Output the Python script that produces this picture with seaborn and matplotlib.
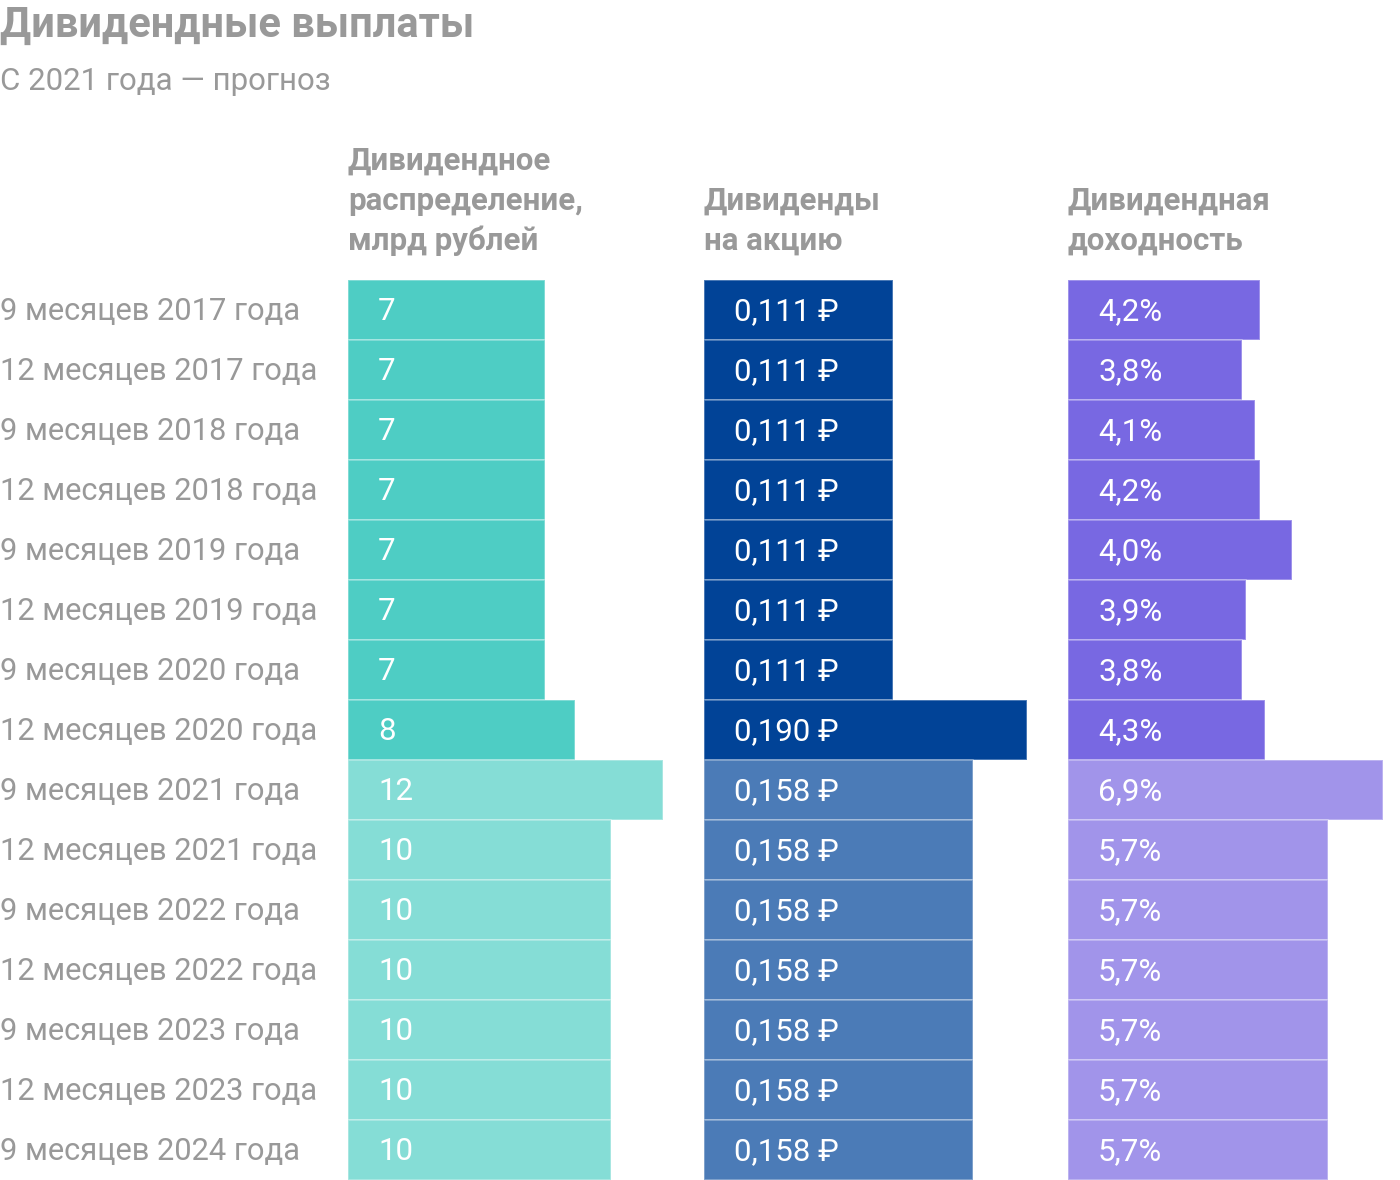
import matplotlib
matplotlib.use("Agg")
import matplotlib.pyplot as plt
import matplotlib.transforms as mtransforms
import seaborn as sns
import pandas as pd

periods = [
    "9 месяцев 2017 года", "12 месяцев 2017 года", "9 месяцев 2018 года",
    "12 месяцев 2018 года", "9 месяцев 2019 года", "12 месяцев 2019 года",
    "9 месяцев 2020 года", "12 месяцев 2020 года", "9 месяцев 2021 года",
    "12 месяцев 2021 года", "9 месяцев 2022 года", "12 месяцев 2022 года",
    "9 месяцев 2023 года", "12 месяцев 2023 года", "9 месяцев 2024 года",
]
status = ["факт"] * 8 + ["прогноз"] * 7

distribution = [7.5, 7.5, 7.5, 7.5, 7.5, 7.5, 7.5, 8.65, 12, 10, 10, 10, 10, 10, 10]
distribution_labels = ["7", "7", "7", "7", "7", "7", "7", "8", "12", "10", "10", "10", "10", "10", "10"]

per_share = [0.111, 0.111, 0.111, 0.111, 0.111, 0.111, 0.111, 0.190,
             0.158, 0.158, 0.158, 0.158, 0.158, 0.158, 0.158]
per_share_labels = ["0,111 ₽"] * 7 + ["0,190 ₽"] + ["0,158 ₽"] * 7

yield_pct = [4.2, 3.8, 4.1, 4.2, 4.9, 3.9, 3.8, 4.3, 6.9, 5.7, 5.7, 5.7, 5.7, 5.7, 5.7]
yield_labels = ["4,2%", "3,8%", "4,1%", "4,2%", "4,0%", "3,9%", "3,8%", "4,3%",
                "6,9%", "5,7%", "5,7%", "5,7%", "5,7%", "5,7%", "5,7%"]

headers = [
    "Дивидендное\nраспределение,\nмлрд рублей",
    "Дивиденды\nна акцию",
    "Дивидендная\nдоходность",
]
title = "Дивидендные выплаты"
subtitle = "С 2021 года — прогноз"

df = pd.DataFrame({
    "period": periods, "status": status,
    "dist": distribution, "share": per_share, "yield": yield_pct,
})

sns.set_theme(style="white")
plt.rcParams["font.family"] = ["Roboto", "DejaVu Sans"]

W, H = 1400, 1180
fig = plt.figure(figsize=(W / 100, H / 100), dpi=100)
GRAY = "#999999"

# columns: (value column, left px, width px, xmax, palette, labels)
columns = [
    ("dist", 348, 320, 320 / 26.25, {"факт": "#4ECDC4", "прогноз": "#85DDD6"}, distribution_labels),
    ("share", 704, 340, 340 / 1700.0, {"факт": "#014397", "прогноз": "#4B7BB7"}, per_share_labels),
    ("yield", 1068, 332, 332 / 45.7, {"факт": "#7868E2", "прогноз": "#A194EA"}, yield_labels),
]

top_px, bottom_px = 280, 1180
axes = []
for col, left, width, xmax, pal, labels in columns:
    ax = fig.add_axes([left / W, 1 - bottom_px / H, width / W, (bottom_px - top_px) / H])
    sns.barplot(data=df, x=col, y="period", hue="status", palette=pal, dodge=False,
                width=1.0, orient="h", ax=ax, legend=False,
                edgecolor=(1, 1, 1, 0.35), linewidth=1.2, saturation=1)
    ax.set_xlim(0, xmax)
    ax.set_ylim(len(periods) - 0.5, -0.5)
    ax.axis("off")
    for i, lab in enumerate(labels):
        ax.text(30 / width, i + 0.03, lab,
                transform=mtransforms.blended_transform_factory(ax.transAxes, ax.transData),
                ha="left", va="center", color="white", fontsize=22.5)
    axes.append(ax)

# row labels
trans = mtransforms.blended_transform_factory(fig.transFigure, axes[0].transData)
for i, p in enumerate(periods):
    fig.text(0.0, i + 0.03, p, transform=trans, ha="left", va="center", color=GRAY, fontsize=22.2)

# headers
header_lines_baselines = [[170, 210, 250], [210, 250], [210, 250]]
for (col, left, *_), head, bases in zip(columns, headers, header_lines_baselines):
    for line, b in zip(head.split("\n"), bases):
        fig.text(left / W, 1 - b / H, line, ha="left", va="baseline", color=GRAY,
                 fontsize=22.5, fontweight="bold")

fig.text(0.0, 1 - 37 / H, title, ha="left", va="baseline", color=GRAY, fontsize=30, fontweight="bold")
fig.text(0.0, 1 - 90 / H, subtitle, ha="left", va="baseline", color=GRAY, fontsize=22.5)

fig.savefig("out.png", dpi=100, facecolor="white")
